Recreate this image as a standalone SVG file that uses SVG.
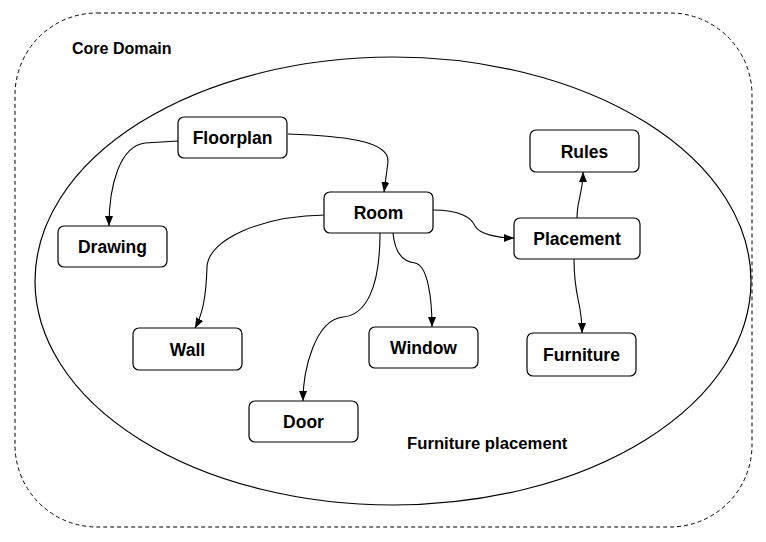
<svg xmlns="http://www.w3.org/2000/svg" width="766" height="542" viewBox="0 0 766 542">
<style>
.box{fill:#fff;stroke:#000;stroke-width:1.2}
.lbl{font-family:"Liberation Sans",Arial,sans-serif;font-weight:bold;font-size:17.5px;fill:#000;text-anchor:middle}
.area{font-family:"Liberation Sans",Arial,sans-serif;font-weight:bold;font-size:16px;fill:#000}
.edge{fill:none;stroke:#000;stroke-width:1.1;marker-end:url(#arr)}
</style>
<defs>
<marker id="arr" markerUnits="userSpaceOnUse" markerWidth="10" markerHeight="10" viewBox="0 0 10 10" refX="10" refY="5" orient="auto">
<path d="M0,1 L10,5 L0,9 Z" fill="#000"/>
</marker>
</defs>
<rect width="766" height="542" fill="#fff"/>
<g id="core-domain">
<rect x="15" y="13" width="737" height="514" rx="82" ry="82" fill="none" stroke="#000" stroke-width="1" stroke-dasharray="4,3"/>
<text class="area" x="72" y="54">Core Domain</text>
</g>
<g id="furniture-placement">
<ellipse cx="393" cy="281" rx="358" ry="224" fill="none" stroke="#000" stroke-width="1.2"/>
<text class="area" x="407" y="449" style="font-size:16.7px">Furniture placement</text>
</g>
<g id="connectors">
<path class="edge" d="M178,141 L145,143 C120,146 109,185 109,226"/>
<path class="edge" d="M288,134 C340,136 390,140 388,162 L384,192"/>
<path class="edge" d="M325,215 C260,216 208,240 207,267 C206,300 202,315 195,328"/>
<path class="edge" d="M380,233 C380,290 365,315 343,317 C315,320 303,370 303,401"/>
<path class="edge" d="M393,233 C395,255 405,262 415,263 C428,265 432,300 432,327"/>
<path class="edge" d="M433,210 C460,210 472,218 475,226 C480,235 500,238 514,238"/>
<path class="edge" d="M577,218 C577,198 583,195 583,172"/>
<path class="edge" d="M574,259 C574,300 582,300 582,333"/>
</g>
<g id="floorplan"><rect class="box" x="178" y="117" width="109" height="41" rx="6"/><text class="lbl" x="232.5" y="144">Floorplan</text></g>
<g id="room"><rect class="box" x="324" y="192" width="109" height="41" rx="6"/><text class="lbl" x="378.5" y="219">Room</text></g>
<g id="drawing"><rect class="box" x="58" y="226" width="109" height="41" rx="6"/><text class="lbl" x="112.5" y="253">Drawing</text></g>
<g id="wall"><rect class="box" x="133" y="328" width="109" height="42" rx="6"/><text class="lbl" x="187.5" y="355.5">Wall</text></g>
<g id="door"><rect class="box" x="249" y="401" width="109" height="41" rx="6"/><text class="lbl" x="303.5" y="428">Door</text></g>
<g id="window"><rect class="box" x="369" y="327" width="109" height="41" rx="6"/><text class="lbl" x="423.5" y="354">Window</text></g>
<g id="rules"><rect class="box" x="530" y="130" width="109" height="42" rx="6"/><text class="lbl" x="584.5" y="157.5">Rules</text></g>
<g id="placement"><rect class="box" x="514" y="218" width="126" height="41" rx="6"/><text class="lbl" x="577" y="245">Placement</text></g>
<g id="furniture"><rect class="box" x="527" y="333" width="109" height="43" rx="6"/><text class="lbl" x="581.5" y="361">Furniture</text></g>
</svg>
